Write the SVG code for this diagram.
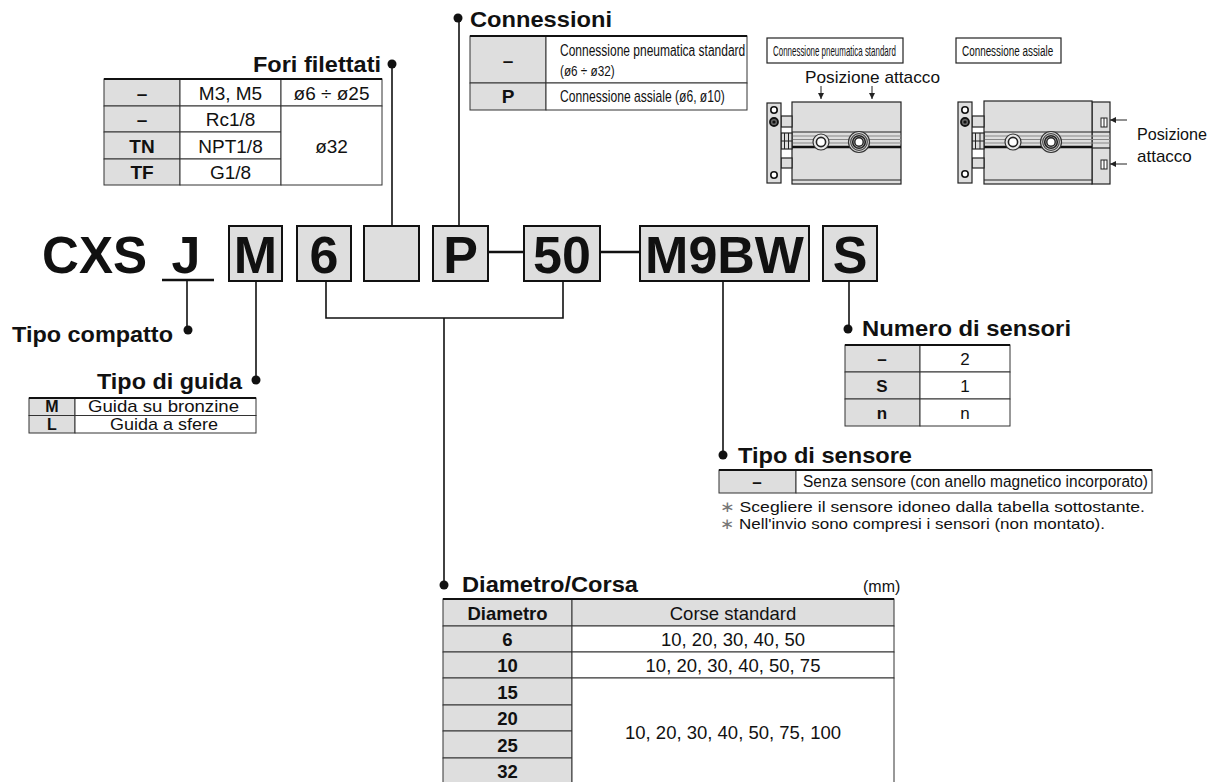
<svg xmlns="http://www.w3.org/2000/svg" width="1224" height="782" viewBox="0 0 1224 782">
<defs>
<style>
text{font-family:"Liberation Sans",Arial,"DejaVu Sans",sans-serif;fill:#111}
.b{font-weight:bold}
.ttl{font-size:22px;font-weight:bold}
.big{font-size:52px;font-weight:bold;text-anchor:middle}
.c{text-anchor:middle}
.w{fill:#fff;stroke:#333;stroke-width:1}
.g{fill:#dedede;stroke:#333;stroke-width:1}
.top{stroke:#111;stroke-width:2.2}
.box{fill:#dedede;stroke:#111;stroke-width:2}
.ln{stroke:#111;stroke-width:1.6;fill:none}
.thk{stroke:#111;stroke-width:2.6;fill:none}
.dot{fill:#111}
.part{fill:#dedede;stroke:#222;stroke-width:1.2}
.dk{stroke:#222;stroke-width:1.2;fill:none}
.gl{stroke:#888;stroke-width:1;fill:none}
.thin{stroke:#222;stroke-width:1;fill:none}
</style>
<marker id="ah" viewBox="0 0 10 10" refX="10" refY="5" markerWidth="6" markerHeight="6" markerUnits="userSpaceOnUse" orient="auto">
<path d="M0,0 L10,5 L0,10 z" fill="#222"/>
</marker>
</defs>
<rect x="0" y="0" width="1224" height="782" fill="#fff"/>

<!-- Main code -->
<g id="code">
<text x="42" y="273" style="font-size:52px;font-weight:bold" textLength="105" lengthAdjust="spacingAndGlyphs">CXS</text>
<text x="186" y="273" class="big">J</text>
<line x1="162" y1="280" x2="214" y2="280" class="thk"/>
<g id="box-M"><rect x="229" y="226" width="53" height="55" class="box"/><text x="255.5" y="273" class="big">M</text></g>
<g id="box-6"><rect x="297" y="226" width="54" height="55" class="box"/><text x="324" y="273" class="big">6</text></g>
<g id="box-empty"><rect x="364" y="226" width="55" height="55" class="box"/></g>
<g id="box-P"><rect x="433" y="226" width="55" height="55" class="box"/><text x="460.5" y="273" class="big">P</text></g>
<g id="box-50"><rect x="524" y="226" width="76" height="55" class="box"/><text x="562" y="273" class="big">50</text></g>
<g id="box-M9BW"><rect x="640" y="226" width="169" height="55" class="box"/><text x="724.5" y="273" class="big">M9BW</text></g>
<g id="box-S"><rect x="823" y="226" width="54" height="55" class="box"/><text x="850" y="273" class="big">S</text></g>
</g>

<!-- Connectors -->
<g id="connectors">
<line x1="488" y1="252" x2="524" y2="252" class="thk"/>
<line x1="600" y1="252" x2="640" y2="252" class="thk"/>
<line x1="187" y1="280" x2="187" y2="330" class="ln"/>
<circle cx="188" cy="330" r="4.5" class="dot"/>
<line x1="256" y1="281" x2="256" y2="380" class="ln"/>
<circle cx="256" cy="380" r="4.5" class="dot"/>
<path d="M326,281 V318 H563 V281" class="ln"/>
<line x1="444" y1="318" x2="444" y2="585" class="ln"/>
<circle cx="444" cy="585" r="4.5" class="dot"/>
<line x1="392" y1="226" x2="392" y2="64" class="ln"/>
<circle cx="392" cy="64" r="4.5" class="dot"/>
<line x1="459" y1="226" x2="459" y2="18" class="ln"/>
<circle cx="458" cy="18" r="4.5" class="dot"/>
<line x1="723" y1="281" x2="723" y2="455" class="ln"/>
<circle cx="723" cy="455" r="4.5" class="dot"/>
<line x1="849" y1="281" x2="849" y2="329" class="ln"/>
<circle cx="848" cy="329" r="4.5" class="dot"/>
</g>

<!-- Fori filettati -->
<g id="fori-filettati">
<text x="253" y="72" class="ttl" textLength="128" lengthAdjust="spacingAndGlyphs">Fori filettati</text>
<rect x="104" y="79" width="76" height="27" class="g"/>
<rect x="104" y="106" width="76" height="26" class="g"/>
<rect x="104" y="132" width="76" height="27" class="g"/>
<rect x="104" y="159" width="76" height="26" class="g"/>
<rect x="180" y="79" width="101" height="27" class="w"/>
<rect x="180" y="106" width="101" height="26" class="w"/>
<rect x="180" y="132" width="101" height="27" class="w"/>
<rect x="180" y="159" width="101" height="26" class="w"/>
<rect x="281" y="79" width="101" height="27" class="w"/>
<rect x="281" y="106" width="101" height="79" class="w"/>
<line x1="104" y1="79" x2="382" y2="79" class="top"/>
<g style="font-size:19px">
<text x="142" y="100" class="c b">–</text>
<text x="230.5" y="100" class="c">M3, M5</text>
<text x="331.5" y="100" class="c">ø6 ÷ ø25</text>
<text x="142" y="126" class="c b">–</text>
<text x="230.5" y="126" class="c">Rc1/8</text>
<text x="142" y="152.5" class="c b">TN</text>
<text x="230.5" y="152.5" class="c">NPT1/8</text>
<text x="142" y="179" class="c b">TF</text>
<text x="230.5" y="179" class="c">G1/8</text>
<text x="331.5" y="152.5" class="c">ø32</text>
</g>
</g>

<!-- Connessioni -->
<g id="connessioni">
<text x="470" y="27" class="ttl" textLength="142" lengthAdjust="spacingAndGlyphs">Connessioni</text>
<rect x="470" y="36" width="76" height="47" class="g"/>
<rect x="470" y="83" width="76" height="27" class="g"/>
<rect x="546" y="36" width="201" height="47" class="w"/>
<rect x="546" y="83" width="201" height="27" class="w"/>
<line x1="470" y1="36" x2="747" y2="36" class="top"/>
<text x="508" y="67" class="c b" style="font-size:19px">–</text>
<text x="508" y="103" class="c b" style="font-size:19px">P</text>
<text transform="translate(560,56) scale(0.75,1)" style="font-size:16px">Connessione pneumatica standard</text>
<text transform="translate(560,76) scale(0.84,1)" style="font-size:14px">(ø6 ÷ ø32)</text>
<text transform="translate(560,102) scale(0.757,1)" style="font-size:16px">Connessione assiale (ø6, ø10)</text>
</g>

<!-- Standard connection drawing -->
<g id="drawing-standard">
<rect x="767" y="38" width="136" height="25" fill="#fff" stroke="#222" stroke-width="1.2"/>
<text transform="translate(773,56) scale(0.53,1)" style="font-size:15px">Connessione pneumatica standard</text>
<text x="805" y="83" style="font-size:17px" textLength="135" lengthAdjust="spacingAndGlyphs">Posizione attacco</text>
<line x1="821" y1="86" x2="821" y2="99" class="thin" marker-end="url(#ah)"/>
<line x1="872" y1="86" x2="872" y2="99" class="thin" marker-end="url(#ah)"/>
<rect x="792" y="102" width="109" height="82" class="part"/>
<line x1="792" y1="180" x2="901" y2="180" class="dk"/>
<line x1="792" y1="132" x2="901" y2="132" class="dk"/>
<line x1="792" y1="136" x2="901" y2="136" class="gl"/>
<line x1="792" y1="139.5" x2="901" y2="139.5" class="gl"/>
<line x1="792" y1="143" x2="901" y2="143" class="gl"/>
<line x1="792" y1="147" x2="901" y2="147" stroke="#111" stroke-width="2.4"/>
<rect x="781" y="116" width="11" height="11" class="part"/>
<rect x="781" y="158" width="11" height="10" class="part"/>
<rect x="781" y="133" width="11" height="16" class="part"/>
<line x1="784.5" y1="133" x2="784.5" y2="149" class="thin"/>
<line x1="788.5" y1="133" x2="788.5" y2="149" class="thin"/>
<line x1="781" y1="141" x2="792" y2="141" class="thin"/>
<rect x="767" y="103" width="14" height="80" class="part"/>
<circle cx="774" cy="110" r="3.2" fill="#fff" stroke="#111" stroke-width="1.6"/>
<circle cx="774" cy="122" r="4" fill="#666" stroke="#111" stroke-width="1.8"/>
<circle cx="774" cy="122" r="1.6" fill="#111"/>
<circle cx="774" cy="175" r="3.2" fill="#fff" stroke="#111" stroke-width="1.6"/>
<circle cx="821" cy="142" r="8" fill="#e8e8e8" stroke="#333" stroke-width="1.2"/>
<circle cx="821" cy="142" r="4.6" fill="#fff" stroke="#222" stroke-width="1.6"/>
<circle cx="859" cy="142" r="10.5" fill="#ddd" stroke="#333" stroke-width="1.2"/>
<circle cx="859" cy="142" r="8.3" fill="none" stroke="#444" stroke-width="1.2"/>
<circle cx="859" cy="142" r="6.3" fill="#bbb" stroke="#222" stroke-width="1.6"/>
<circle cx="859" cy="142" r="4.2" fill="#fff" stroke="#222" stroke-width="1.4"/>
</g>

<!-- Axial connection drawing -->
<g id="drawing-axial">
<rect x="956" y="38" width="105" height="25" fill="#fff" stroke="#222" stroke-width="1.2"/>
<text transform="translate(962,56) scale(0.66,1)" style="font-size:15px">Connessione assiale</text>
<rect x="1092" y="102" width="18" height="82" class="part"/>
<line x1="1092" y1="132" x2="1110" y2="132" class="dk"/>
<line x1="1092" y1="148" x2="1110" y2="148" class="dk"/>
<rect x="1101" y="118" width="6" height="9" fill="#fff" stroke="#222" stroke-width="1"/>
<line x1="1104" y1="118" x2="1104" y2="127" class="thin"/>
<rect x="1101" y="160" width="6" height="9" fill="#fff" stroke="#222" stroke-width="1"/>
<line x1="1104" y1="160" x2="1104" y2="169" class="thin"/>
<rect x="984" y="101" width="108" height="83" class="part"/>
<line x1="984" y1="180" x2="1092" y2="180" class="dk"/>
<line x1="984" y1="132" x2="1092" y2="132" class="dk"/>
<line x1="984" y1="136" x2="1110" y2="136" class="gl"/>
<line x1="984" y1="139.5" x2="1110" y2="139.5" class="gl"/>
<line x1="984" y1="143" x2="1110" y2="143" class="gl"/>
<line x1="984" y1="147" x2="1092" y2="147" stroke="#111" stroke-width="2.4"/>
<rect x="972" y="116" width="12" height="11" class="part"/>
<rect x="972" y="158" width="12" height="10" class="part"/>
<rect x="972" y="133" width="12" height="16" class="part"/>
<line x1="975.5" y1="133" x2="975.5" y2="149" class="thin"/>
<line x1="980" y1="133" x2="980" y2="149" class="thin"/>
<line x1="972" y1="141" x2="984" y2="141" class="thin"/>
<rect x="958" y="102" width="14" height="81" class="part"/>
<circle cx="965" cy="110" r="3.2" fill="#fff" stroke="#111" stroke-width="1.6"/>
<circle cx="965" cy="122" r="4" fill="#666" stroke="#111" stroke-width="1.8"/>
<circle cx="965" cy="122" r="1.6" fill="#111"/>
<circle cx="965" cy="174" r="3.2" fill="#fff" stroke="#111" stroke-width="1.6"/>
<circle cx="1013" cy="142" r="8" fill="#e8e8e8" stroke="#333" stroke-width="1.2"/>
<circle cx="1013" cy="142" r="4.6" fill="#fff" stroke="#222" stroke-width="1.6"/>
<circle cx="1051" cy="142" r="10.5" fill="#ddd" stroke="#333" stroke-width="1.2"/>
<circle cx="1051" cy="142" r="8.3" fill="none" stroke="#444" stroke-width="1.2"/>
<circle cx="1051" cy="142" r="6.3" fill="#bbb" stroke="#222" stroke-width="1.6"/>
<circle cx="1051" cy="142" r="4.2" fill="#fff" stroke="#222" stroke-width="1.4"/>
<line x1="1127" y1="120" x2="1110" y2="120" class="thin" marker-end="url(#ah)"/>
<line x1="1127" y1="164" x2="1110" y2="164" class="thin" marker-end="url(#ah)"/>
<text x="1137" y="140" style="font-size:17px" textLength="70" lengthAdjust="spacingAndGlyphs">Posizione</text>
<text x="1137" y="162" style="font-size:17px">attacco</text>
</g>

<!-- Tipo compatto -->
<g id="tipo-compatto">
<text x="12" y="342" class="ttl" textLength="161" lengthAdjust="spacingAndGlyphs">Tipo compatto</text>
</g>

<!-- Tipo di guida -->
<g id="tipo-di-guida">
<text x="97" y="389" class="ttl" textLength="145" lengthAdjust="spacingAndGlyphs">Tipo di guida</text>
<rect x="29" y="398" width="46" height="17.5" class="g"/>
<rect x="29" y="415.5" width="46" height="17.5" class="g"/>
<rect x="75" y="398" width="181" height="17.5" class="w"/>
<rect x="75" y="415.5" width="181" height="17.5" class="w"/>
<line x1="29" y1="398" x2="256" y2="398" class="top"/>
<text x="52" y="412" class="c b" style="font-size:16px">M</text>
<text x="52" y="429.5" class="c b" style="font-size:16px">L</text>
<text x="88" y="412" style="font-size:17px" textLength="151" lengthAdjust="spacingAndGlyphs">Guida su bronzine</text>
<text x="110" y="429.5" style="font-size:17px" textLength="108" lengthAdjust="spacingAndGlyphs">Guida a sfere</text>
</g>

<!-- Numero di sensori -->
<g id="numero-di-sensori">
<text x="862" y="336" class="ttl" textLength="209" lengthAdjust="spacingAndGlyphs">Numero di sensori</text>
<rect x="845" y="345" width="75" height="27" class="g"/>
<rect x="845" y="372" width="75" height="27" class="g"/>
<rect x="845" y="399" width="75" height="27" class="g"/>
<rect x="920" y="345" width="90" height="27" class="w"/>
<rect x="920" y="372" width="90" height="27" class="w"/>
<rect x="920" y="399" width="90" height="27" class="w"/>
<line x1="845" y1="345" x2="1010" y2="345" class="top"/>
<g style="font-size:17px">
<text x="882" y="365" class="c b">–</text>
<text x="965" y="365" class="c">2</text>
<text x="882" y="392" class="c b">S</text>
<text x="965" y="392" class="c">1</text>
<text x="882" y="419" class="c b">n</text>
<text x="965" y="419" class="c">n</text>
</g>
</g>

<!-- Tipo di sensore -->
<g id="tipo-di-sensore">
<text x="738" y="463" class="ttl" textLength="174" lengthAdjust="spacingAndGlyphs">Tipo di sensore</text>
<rect x="719" y="470" width="77" height="23" class="g"/>
<rect x="796" y="470" width="356" height="23" class="w"/>
<line x1="719" y1="470" x2="1152" y2="470" class="top"/>
<text x="757" y="488" class="c b" style="font-size:17px">–</text>
<text x="803" y="487" style="font-size:16px" textLength="345" lengthAdjust="spacingAndGlyphs">Senza sensore (con anello magnetico incorporato)</text>
<text x="720" y="512" style="font-size:15px" textLength="425" lengthAdjust="spacingAndGlyphs"><tspan fill="#777">∗</tspan> Scegliere il sensore idoneo dalla tabella sottostante.</text>
<text x="720" y="529" style="font-size:15px" textLength="385" lengthAdjust="spacingAndGlyphs"><tspan fill="#777">∗</tspan> Nell'invio sono compresi i sensori (non montato).</text>
</g>

<!-- Diametro/Corsa -->
<g id="diametro-corsa">
<text x="462" y="592" class="ttl" textLength="176" lengthAdjust="spacingAndGlyphs">Diametro/Corsa</text>
<text x="863" y="592" style="font-size:16px">(mm)</text>
<rect x="443" y="599" width="129" height="27" class="g"/>
<rect x="572" y="599" width="322" height="27" class="g"/>
<rect x="443" y="626" width="129" height="26" class="g"/>
<rect x="443" y="652" width="129" height="26" class="g"/>
<rect x="443" y="678" width="129" height="27" class="g"/>
<rect x="443" y="705" width="129" height="26" class="g"/>
<rect x="443" y="731" width="129" height="27" class="g"/>
<rect x="443" y="758" width="129" height="30" class="g"/>
<rect x="572" y="626" width="322" height="26" class="w"/>
<rect x="572" y="652" width="322" height="26" class="w"/>
<rect x="572" y="678" width="322" height="110" class="w"/>
<line x1="443" y1="599" x2="894" y2="599" class="top"/>
<g style="font-size:18.5px">
<text x="507.5" y="620" class="c b">Diametro</text>
<text x="733" y="620" class="c">Corse standard</text>
<text x="507.5" y="646" class="c b">6</text>
<text x="733" y="646" class="c">10, 20, 30, 40, 50</text>
<text x="507.5" y="672" class="c b">10</text>
<text x="733" y="672" class="c">10, 20, 30, 40, 50, 75</text>
<text x="507.5" y="699" class="c b">15</text>
<text x="507.5" y="725" class="c b">20</text>
<text x="507.5" y="752" class="c b">25</text>
<text x="507.5" y="778" class="c b">32</text>
<text x="733" y="739" class="c">10, 20, 30, 40, 50, 75, 100</text>
</g>
</g>
</svg>
